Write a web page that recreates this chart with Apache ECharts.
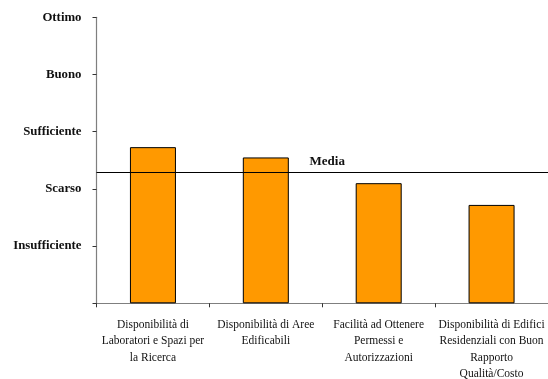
<!DOCTYPE html>
<html>
<head>
<meta charset="utf-8">
<script src="https://cdn.jsdelivr.net/npm/echarts@6/dist/echarts.min.js"></script>
<style>
  html, body { margin: 0; padding: 0; background: #fff; }
  #chart { width: 548px; height: 379px; }
</style>
</head>
<body>
<div id="chart"></div>
<script>
// Valutazione dei fattori (scala 0-5)
const categories = [
  'Disponibilità di\nLaboratori e Spazi per\nla Ricerca',
  'Disponibilità di Aree\nEdificabili',
  'Facilità ad Ottenere\nPermessi e\nAutorizzazioni',
  'Disponibilità di Edifici\nResidenziali con Buon\nRapporto\nQualità/Costo'
];
const scores = [2.73, 2.55, 2.10, 1.72];
const mediaValue = 2.29;
const scaleLabels = ['', 'Insufficiente', 'Scarso', 'Sufficiente', 'Buono', 'Ottimo'];

const chart = echarts.init(document.getElementById('chart'), null, { renderer: 'canvas' });
const serif = "'Liberation Serif', 'Times New Roman', serif";

chart.setOption({
  animation: false,
  backgroundColor: '#ffffff',
  grid: {
    left: 96.5, right: 0, top: 17.3, bottom: 75.7,
    containLabel: false,
    outerBoundsMode: 'none'
  },
  xAxis: {
    type: 'category',
    data: categories,
    axisLine: { lineStyle: { color: '#7f7f7f', width: 1.2 } },
    axisTick: { show: true, length: 4, lineStyle: { color: '#333', width: 1 } },
    axisLabel: {
      interval: 0,
      margin: 13.5,
      color: '#111',
      fontFamily: serif,
      fontSize: 11.5,
      lineHeight: 16.4,
      align: 'center'
    },
    splitLine: { show: false }
  },
  yAxis: {
    type: 'value',
    min: 0,
    max: 5,
    interval: 1,
    axisLine: { show: true, lineStyle: { color: '#7f7f7f', width: 1.2 } },
    axisTick: { show: true, length: 4, lineStyle: { color: '#333', width: 1 } },
    axisLabel: {
      margin: 15,
      color: '#111',
      fontFamily: serif,
      fontWeight: 'bold',
      fontSize: 12.8,
      formatter: function (v) { return scaleLabels[Math.round(v)]; }
    },
    splitLine: { show: false }
  },
  series: [{
    type: 'bar',
    data: scores,
    barWidth: 46,
    itemStyle: { color: '#ff9900', borderColor: '#000', borderWidth: 1 },
    markLine: {
      silent: true,
      symbol: ['none', 'none'],
      data: [{ yAxis: mediaValue }],
      lineStyle: { color: '#000', width: 1, type: 'solid' },
      label: {
        show: true,
        formatter: 'Media',
        position: 'insideMiddleTop',
        distance: 4,
        offset: [5, 0],
        color: '#111',
        fontFamily: serif,
        fontWeight: 'bold',
        fontSize: 13
      },
      emphasis: { disabled: true }
    }
  }]
});
</script>
</body>
</html>
